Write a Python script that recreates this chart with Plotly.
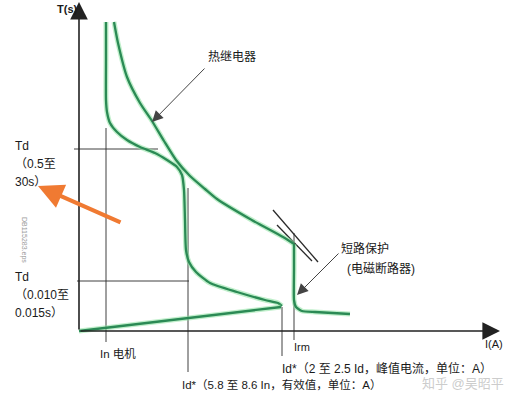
import plotly.graph_objects as go

W, H = 526, 397

# ---- diagram geometry (pixel space of the picture) ----
axis_origin = (79, 331)
y_axis_top = (79, 2)
x_axis_end = (500, 331)

motor_x = [106, 106, 106, 107, 110, 117, 127, 140, 155, 167, 177, 182, 184, 185, 186, 189, 196, 210, 237, 265, 278, 282]
motor_y = [22, 60, 100, 112, 123, 132, 140, 147, 153, 160, 167, 175, 190, 220, 250, 262, 272, 283, 292, 300, 303, 306]
start_x = [281, 79]
start_y = [307, 331]

relay_x = [114, 118, 127, 140, 152, 164, 176, 190, 205, 217, 250, 283, 294]
relay_y = [22, 43, 77, 103, 121, 141, 160, 176, 189, 199, 219, 237, 244]

short_x = [294, 294, 294, 296, 302, 315, 350]
short_y = [244, 270, 300, 307, 311, 312, 314]

diag1_x, diag1_y = [273, 318], [210, 262]
diag2_x, diag2_y = [277, 312], [225, 261]

vlines = [(106, 128, 342), (188, 188, 372), (282, 307, 356), (294, 233, 340)]
hlines = [(149, 74, 158), (281, 77, 189)]

labels = [
    ("<b>T(s)</b>", 55, 9, 11),
    ("热继电器", 206, 57, 12),
    ("短路保护", 339, 248, 12),
    ("(电磁断路器)", 345, 268, 12),
    ("Td", 13, 146, 12),
    ("（0.5至", 13, 164, 12),
    ("30s）", 13, 182, 12),
    ("Td", 13, 277, 12),
    ("（0.010至", 13, 295, 12),
    ("0.015s）", 13, 313, 12),
    ("In 电机", 98, 353, 11.5),
    ("Irm", 292, 347, 11),
    ("I(A)", 483, 344, 11),
    ("Id*（2 至 2.5 Id，峰值电流，单位：A）", 280, 368, 12),
    ("Id*（5.8 至 8.6 In，有效值，单位：A）", 180, 384, 11.5),
]

relay_arrow = ((206, 67), (152, 122))
short_arrow = ((340, 252), (297, 295))
orange_arrow = ((122, 223), (38, 186))

GREEN = "#2b8a55"
HALO = "rgba(140,225,160,0.55)"
BLACK = "#2a2a2a"
FONT = "Liberation Sans, Noto Sans CJK SC, sans-serif"

fig = go.Figure()

def green(xs, ys, shape="spline", smooth=0.6):
    fig.add_trace(go.Scatter(x=xs, y=ys, mode="lines", hoverinfo="skip",
                             line=dict(color=HALO, width=5, shape=shape, smoothing=smooth if shape == "spline" else None)))
    fig.add_trace(go.Scatter(x=xs, y=ys, mode="lines", hoverinfo="skip",
                             line=dict(color=GREEN, width=2.3, shape=shape, smoothing=smooth if shape == "spline" else None)))

def black(xs, ys, w=1):
    fig.add_trace(go.Scatter(x=xs, y=ys, mode="lines", hoverinfo="skip",
                             line=dict(color=BLACK, width=w)))

# thin black guide lines
for x, y0, y1 in vlines:
    black([x, x], [y0, y1], 0.9)
for y, x0, x1 in hlines:
    black([x0, x1], [y, y], 0.9)
black(diag1_x, diag1_y, 1.3)
black(diag2_x, diag2_y, 1.3)

# green curves
green(motor_x, motor_y)
green(start_x, start_y, "linear")
green(relay_x, relay_y)
green(short_x, short_y, smooth=0.5)

annotations = []
# axes with arrowheads
annotations.append(dict(x=y_axis_top[0], y=y_axis_top[1], ax=axis_origin[0], ay=axis_origin[1],
                        xref="x", yref="y", axref="x", ayref="y", showarrow=True,
                        arrowhead=2, arrowsize=2.2, arrowwidth=1.6, arrowcolor="#222", text=""))
annotations.append(dict(x=x_axis_end[0], y=x_axis_end[1], ax=axis_origin[0], ay=axis_origin[1],
                        xref="x", yref="y", axref="x", ayref="y", showarrow=True,
                        arrowhead=2, arrowsize=2.2, arrowwidth=1.6, arrowcolor="#222", text=""))
for (tail, head), col, w, s in [(relay_arrow, "#444", 1.0, 2.2), (short_arrow, "#444", 1.0, 2.2),
                                (orange_arrow, "#f07a32", 4.2, 1.2)]:
    annotations.append(dict(x=head[0], y=head[1], ax=tail[0], ay=tail[1],
                            xref="x", yref="y", axref="x", ayref="y", showarrow=True,
                            arrowhead=2, arrowsize=s, arrowwidth=w, arrowcolor=col, text=""))

for txt, x, y, sz in labels:
    annotations.append(dict(x=x, y=y, xref="x", yref="y", text=txt, showarrow=False,
                            xanchor="left", yanchor="middle",
                            font=dict(family=FONT, size=sz, color="#1a1a1a")))

# watermarks
annotations.append(dict(x=24, y=240, xref="x", yref="y", text="DB115283.eps", showarrow=False,
                        textangle=90, font=dict(family=FONT, size=7, color="#9a9a9a")))
annotations.append(dict(x=420, y=383, xref="x", yref="y", text="知乎 @吴昭平", showarrow=False,
                        xanchor="left", yanchor="middle",
                        font=dict(family=FONT, size=13, color="rgba(190,190,190,0.8)")))

fig.update_layout(
    width=W, height=H, margin=dict(l=0, r=0, t=0, b=0),
    paper_bgcolor="white", plot_bgcolor="white", showlegend=False,
    xaxis=dict(range=[0, W], visible=False, fixedrange=True),
    yaxis=dict(range=[H, 0], visible=False, fixedrange=True),
    annotations=annotations,
)

fig.write_html("out.html")
